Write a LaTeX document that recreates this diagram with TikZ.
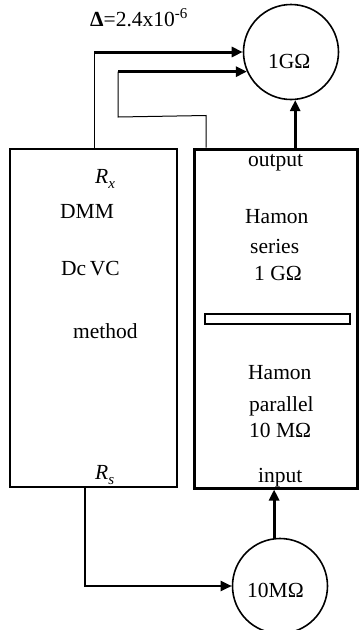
\documentclass[tikz,border=0pt]{standalone}
\usepackage{fontspec}
\setmainfont{Liberation Serif}
\usetikzlibrary{arrows.meta,calc}
\tikzset{
  txt/.style={anchor=base west,inner sep=0pt,font=\fontsize{21.5}{24}\selectfont},
  tip/.style={-{Triangle[length=11pt,width=10pt]}},
  thinline/.style={line width=1pt},
  thickline/.style={line width=3pt},
  res/.style={circle,draw,line width=1.6pt,minimum size=95pt,inner sep=0pt}
}
\begin{document}
\begin{tikzpicture}[x=1pt,y=-1pt]
\useasboundingbox (0,0) rectangle (359,630);
% boxes
\node[draw,line width=2pt,minimum width=167pt,minimum height=338pt,inner sep=0pt] (dmm) at (93.5,318) {};
\node[draw,line width=3pt,minimum width=163pt,minimum height=339pt,inner sep=0pt] (hamon) at (276,318.5) {};
\node[draw,line width=1.8pt,minimum width=145pt,minimum height=10pt,inner sep=0pt] (bar) at (277.5,319) {};
% resistors
\node[res] (g1) at (291,52) {};
\node[res] (m10) at (280,586) {};
% texts
\node[txt] (delta) at (90,26) {\textbf{Δ}=2.4x10\textsuperscript{-6}};
\node[txt] (rx) at (95,183) {\textit{R}\raisebox{-0.25em}{\fontsize{15}{15}\selectfont\textit{x}}};
\node[txt] (dmmt) at (60,218) {DMM};
\node[txt] (dcvc) at (61,275) {Dc\,VC};
\node[txt] (meth) at (73,338) {method};
\node[txt] (rs) at (95,479) {\textit{R}\raisebox{-0.25em}{\fontsize{15}{15}\selectfont\textit{s}}};
\node[txt] (outt) at (248,166) {output};
\node[txt] (ham1) at (245,223) {Hamon};
\node[txt] (ser) at (250,253) {series};
\node[txt] (gohm) at (254,280) {1 GΩ};
\node[txt] (ham2) at (248,379) {Hamon};
\node[txt] (par) at (249,411) {parallel};
\node[txt] (mohm) at (249,437) {10 MΩ};
\node[txt] (inp) at (258,482) {input};
\node[txt] (g1t) at (268,68) {1GΩ};
\node[txt] (m10t) at (247,597) {10MΩ};
% connectors
\coordinate (rxp) at ($(dmm.north west)+(85,0)$);
\coordinate (a1) at (rxp |- g1.west);
\draw[thinline] (rxp) -- (a1);
\draw[thickline,tip] (a1) -- (g1.west);
\coordinate (hp) at ($(hamon.north west)+(13,0)$);
\coordinate (b1) at ($(hp)+(0,-32)$);
\coordinate (b2) at (118,117);
\coordinate (b3) at (b2 |- g1.204);
\draw[thinline] (hp) -- (b1) -- (b2) -- (b3);
\draw[thickline,tip] (b3) -- (g1.204);
\coordinate (op) at (g1.275 |- hamon.north);
\draw[thickline,tip] (op) -- (g1.275);
\coordinate (rsp) at ($(dmm.south west)+(76,0)$);
\draw[line width=2pt,tip] (rsp) |- (m10.west);
\coordinate (ip) at (m10.97 |- hamon.south);
\draw[thickline,tip] (m10.97) -- (ip);
\end{tikzpicture}
\end{document}
